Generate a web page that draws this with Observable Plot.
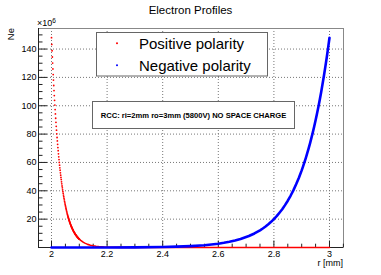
<!DOCTYPE html>
<html><head><meta charset="utf-8">
<script src="https://cdn.jsdelivr.net/npm/d3@7"></script>
<script src="https://cdn.jsdelivr.net/npm/@observablehq/plot@0.6"></script>
<style>html,body{margin:0;padding:0;background:#fff}</style>
</head><body><div id="chart"></div>
<script>
const titleText = "Electron Profiles";
const yLabelText = "Ne";
const xLabelText = "r [mm]";
const exponentText = ["×10", "6"];
const legendLabels = ["Positive polarity", "Negative polarity"];
const noteText = "RCC: ri=2mm ro=3mm (5800V) NO SPACE CHARGE";

const xMajorTicks = [2, 2.2, 2.4, 2.6, 2.8, 3];
const xMinorTicks = [2.05, 2.1, 2.15, 2.25, 2.3, 2.35, 2.45, 2.5, 2.55, 2.65, 2.7, 2.75, 2.85, 2.9, 2.95, 3.05];
const yMajorTicks = [20, 40, 60, 80, 100, 120, 140];
const yMinorTicks = [5, 10, 15, 25, 30, 35, 45, 50, 55, 65, 70, 75, 85, 90, 95, 105, 110, 115, 125, 130, 135, 145, 150];

// Positive polarity (red), r in mm, Ne in 1e6
const posR = [
  2.000, 2.001, 2.002, 2.003, 2.004, 2.005, 2.006, 2.007, 2.008, 2.009,
  2.010, 2.011, 2.012, 2.013, 2.014, 2.015, 2.016, 2.017, 2.018, 2.019,
  2.020, 2.021, 2.022, 2.023, 2.024, 2.025, 2.026, 2.027, 2.028, 2.029,
  2.030, 2.031, 2.032, 2.033, 2.034, 2.035, 2.036, 2.037, 2.038, 2.039,
  2.040, 2.041, 2.042, 2.043, 2.044, 2.045, 2.046, 2.047, 2.048, 2.049,
  2.050, 2.051, 2.052, 2.053, 2.054, 2.055, 2.056, 2.057, 2.058, 2.059,
  2.060, 2.061, 2.062, 2.063, 2.064, 2.065, 2.066, 2.067, 2.068, 2.069,
  2.070, 2.071, 2.072, 2.073, 2.074, 2.075, 2.076, 2.077, 2.078, 2.079,
  2.080, 2.081, 2.082, 2.083, 2.084, 2.085, 2.086, 2.087, 2.088, 2.089,
  2.090, 2.091, 2.092, 2.093, 2.094, 2.095, 2.096, 2.097, 2.098, 2.099,
  2.100, 2.105, 2.110, 2.115, 2.120, 2.130, 2.140, 2.150, 2.160, 2.170,
  2.180, 2.190, 2.200, 2.250, 2.300, 2.400, 2.600, 2.800, 3.000
];
const posNe = [
  148.0, 143.3, 138.8, 134.4, 130.1, 126.0, 122.0, 118.1, 114.3, 110.7,
  107.2, 103.8, 100.5, 97.3, 94.2, 91.2, 88.3, 85.5, 82.8, 80.2,
  77.6, 75.2, 72.8, 70.5, 68.3, 66.1, 64.0, 62.0, 60.0, 58.1,
  56.2, 54.5, 52.7, 51.0, 49.4, 47.9, 46.3, 44.9, 43.4, 42.1,
  40.7, 39.4, 38.2, 37.0, 35.8, 34.7, 33.6, 32.5, 31.5, 30.5,
  29.5, 28.6, 27.7, 26.8, 25.9, 25.1, 24.3, 23.5, 22.8, 22.1,
  21.4, 20.7, 20.0, 19.4, 18.8, 18.2, 17.6, 17.1, 16.5, 16.0,
  15.5, 15.0, 14.5, 14.1, 13.6, 13.2, 12.8, 12.4, 12.0, 11.6,
  11.2, 10.9, 10.5, 10.2, 9.9, 9.5, 9.2, 8.9, 8.7, 8.4,
  8.1, 7.9, 7.6, 7.4, 7.1, 6.9, 6.7, 6.5, 6.3, 6.1,
  5.9, 5.0, 4.3, 3.6, 3.1, 2.2, 1.6, 1.2, 0.85, 0.6,
  0.45, 0.3, 0.2, 0.07, 0.02, 0, 0, 0, 0
];

// Negative polarity (blue)
const negR = [
  2.00, 2.10, 2.20, 2.30, 2.40, 2.45, 2.50, 2.55, 2.60, 2.62,
  2.64, 2.66, 2.68, 2.70, 2.71, 2.72, 2.73, 2.74, 2.75, 2.76,
  2.77, 2.78, 2.79, 2.80, 2.81, 2.82, 2.83, 2.84, 2.85, 2.86,
  2.87, 2.88, 2.89, 2.90, 2.905, 2.91, 2.915, 2.92, 2.925, 2.93,
  2.935, 2.94, 2.945, 2.95, 2.955, 2.96, 2.965, 2.97, 2.975, 2.98,
  2.985, 2.99, 2.995, 3.00
];
const negNe = [
  0.0, 0.02, 0.05, 0.1, 0.4, 0.6, 1.0, 1.6, 2.7, 3.3,
  4.0, 4.9, 6.0, 7.4, 8.1, 9.0, 9.9, 11.0, 12.1, 13.4,
  14.8, 16.4, 18.1, 20.0, 22.1, 24.5, 27.0, 29.9, 33.0, 36.5,
  40.3, 44.6, 49.2, 54.4, 57.2, 60.2, 63.3, 66.5, 69.9, 73.5,
  77.3, 81.2, 85.4, 89.8, 94.4, 99.2, 104.3, 109.6, 115.3, 121.2,
  127.4, 133.9, 140.8, 148.0
];

const FONT = "'Liberation Sans', Arial, Helvetica, sans-serif";
const W = 381, H = 275;
const M = {top: 28, right: 38, bottom: 28, left: 38};
const plotW = W - M.left - M.right, plotH = H - M.top - M.bottom;
const xDomain = [1.9532, 3.0504];
const yDomain = [0, 154.5];

const pos = posR.map((r, i) => ({r, ne: posNe[i]}));
const neg = negR.map((r, i) => ({r, ne: negNe[i]}));

const overlay = () => {
  const g = d3.create("svg:g").attr("font-family", FONT).attr("fill", "#000").attr("text-anchor", "start");
  g.append("text").attr("x", 190.5).attr("y", 14).attr("text-anchor", "middle").attr("font-size", 11.5).text(titleText);
  const ex = g.append("text").attr("x", 37).attr("y", 26).attr("text-anchor", "start").attr("font-size", 9);
  ex.append("tspan").text(exponentText[0]);
  ex.append("tspan").attr("dy", -3.5).attr("font-size", 6.5).text(exponentText[1]);
  g.append("text").attr("transform", "translate(13.5,28) rotate(-90)").attr("text-anchor", "end").attr("font-size", 9.5).text(yLabelText);
  g.append("text").attr("x", 343).attr("y", 266).attr("text-anchor", "end").attr("font-size", 9).text(xLabelText);
  // legend
  g.append("rect").attr("x", 96.5).attr("y", 32.5).attr("width", 171).attr("height", 43.5)
    .attr("fill", "#fff").attr("stroke", "#666");
  const colors = ["#ff0000", "#0000ff"];
  const ys = [48.5, 70.5];
  legendLabels.forEach((t, i) => {
    g.append("circle").attr("cx", 117).attr("cy", ys[i] - 5.2).attr("r", 1).attr("fill", colors[i]);
    g.append("text").attr("x", 139).attr("y", ys[i]).attr("text-anchor", "start").attr("font-size", 15).text(t);
  });
  // note
  g.append("rect").attr("x", 92.5).attr("y", 101.5).attr("width", 202).attr("height", 27)
    .attr("fill", "#fff").attr("stroke", "#666");
  g.append("text").attr("x", 193.5).attr("y", 118).attr("text-anchor", "middle")
    .attr("font-size", 7.6).attr("font-weight", "bold").text(noteText);
  return g.node();
};

const chart = Plot.plot({
  width: W, height: H,
  marginTop: M.top, marginRight: M.right, marginBottom: M.bottom, marginLeft: M.left,
  style: {fontFamily: FONT, fontSize: "9px", color: "#000", background: "#fff"},
  x: {domain: xDomain},
  y: {domain: yDomain},
  marks: [
    Plot.ruleY(yMajorTicks, {stroke: "#777", strokeDasharray: "1,2"}),
    Plot.ruleX(xMajorTicks, {stroke: "#777", strokeDasharray: "1,2"}),
    Plot.frame({stroke: "#888"}),
    Plot.ruleX([xDomain[0]], {stroke: "#222"}),
    Plot.ruleY([yDomain[0]], {stroke: "#222"}),
    Plot.tickY(yMajorTicks, {y: d => d, insetRight: plotW - 9, stroke: "#222"}),
    Plot.tickY(yMinorTicks, {y: d => d, insetRight: plotW - 4.5, stroke: "#222"}),
    Plot.tickX(xMajorTicks, {x: d => d, insetTop: plotH - 6.5, stroke: "#222"}),
    Plot.tickX(xMinorTicks, {x: d => d, insetTop: plotH - 3.3, stroke: "#222"}),
    Plot.axisY(yMajorTicks, {tickSize: 0, tickPadding: 2, label: null, tickFormat: d => String(d)}),
    Plot.axisX(xMajorTicks, {tickSize: 0, tickPadding: 3, label: null, tickFormat: d => String(d)}),
    Plot.line(pos.filter(d => d.r >= 2.06), {x: "r", y: "ne", stroke: "#ff0000", strokeWidth: 1.6}),
    Plot.dot(pos.filter(d => d.r <= 2.1), {x: "r", y: "ne", r: 0.9, fill: "#ff0000", stroke: null}),
    Plot.line(neg, {x: "r", y: "ne", stroke: "#0000ff", strokeWidth: 2.6}),
    overlay
  ]
});
document.getElementById("chart").appendChild(chart);
</script>
</body></html>
